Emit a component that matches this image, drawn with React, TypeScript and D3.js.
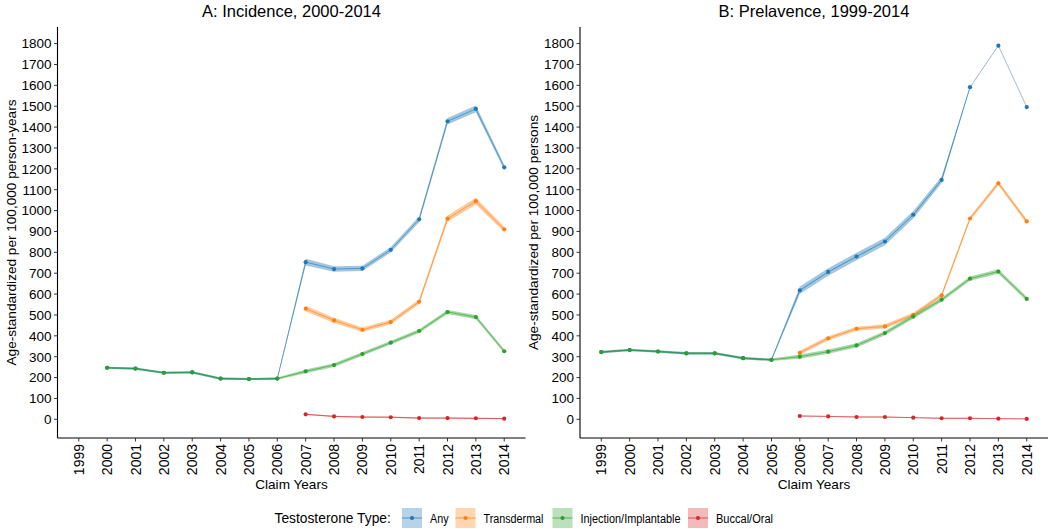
import * as d3 from "d3";

// ---- data ----
const seriesNames = ["Any", "Transdermal", "Injection/Implantable", "Buccal/Oral"];
const seriesColors = ["#1f77b4", "#ff7f0e", "#2ca02c", "#d62728"];

const yearTicks = [1999, 2000, 2001, 2002, 2003, 2004, 2005, 2006, 2007, 2008, 2009, 2010, 2011, 2012, 2013, 2014];
const valueTicks = [0, 100, 200, 300, 400, 500, 600, 700, 800, 900, 1000, 1100, 1200, 1300, 1400, 1500, 1600, 1700, 1800];

// A: incidence, 2000-2014
const incYears = [2000, 2001, 2002, 2003, 2004, 2005, 2006, 2007, 2008, 2009, 2010, 2011, 2012, 2013, 2014];
const incAny = [247, 243, 223, 225, 195, 193, 195, 753, 720, 723, 812, 958, 1428, 1487, 1207];
const incTransdermal = [null, null, null, null, null, null, null, 530, 474, 429, 466, 563, 961, 1045, 910];
const incInjection = [247, 243, 223, 225, 195, 193, 195, 230, 260, 313, 367, 423, 514, 490, 326];
const incBuccal = [null, null, null, null, null, null, null, 24, 14, 11, 10, 6, 6, 5, 3];
// half-width of the confidence band
const incAnyCI = [5, 5, 5, 5, 5, 5, 5, 16, 13, 13, 13, 14, 16, 16, 13];
const incTransdermalCI = [0, 0, 0, 0, 0, 0, 0, 14, 12, 11, 11, 12, 15, 16, 13];
const incInjectionCI = [5, 5, 5, 5, 5, 5, 5, 9, 9, 9, 9, 9, 10, 10, 8];
const incBuccalCI = [0, 0, 0, 0, 0, 0, 0, 3, 3, 3, 3, 3, 3, 3, 3];

// B: prevalence, 1999-2014
const prevYears = [1999, 2000, 2001, 2002, 2003, 2004, 2005, 2006, 2007, 2008, 2009, 2010, 2011, 2012, 2013, 2014];
const prevAny = [322, 332, 325, 316, 316, 293, 285, 618, 706, 780, 852, 980, 1147, 1591, 1790, 1496];
const prevTransdermal = [null, null, null, null, null, null, null, 319, 388, 434, 445, 501, 594, 962, 1131, 948];
const prevInjection = [322, 332, 325, 316, 316, 293, 285, 300, 324, 354, 413, 492, 573, 674, 708, 577];
const prevBuccal = [null, null, null, null, null, null, null, 16, 14, 11, 11, 8, 5, 5, 3, 2];
const prevAnyCI = [5, 5, 5, 5, 5, 5, 5, 18, 18, 18, 18, 18, 16, 2, 2, 2];
const prevTransdermalCI = [0, 0, 0, 0, 0, 0, 0, 10, 10, 10, 10, 10, 10, 10, 11, 10];
const prevInjectionCI = [6, 6, 6, 6, 6, 6, 6, 10, 10, 10, 10, 10, 10, 10, 11, 10];
const prevBuccalCI = [0, 0, 0, 0, 0, 0, 0, 2, 2, 2, 2, 2, 2, 2, 2, 2];

const FONT = "'Liberation Sans', Arial, Helvetica, sans-serif";

type Pt = { year: number; v: number | null; ci: number };

function toPoints(years: number[], vals: (number | null)[], ci: number[]): Pt[] {
  return years.map((year, i) => ({ year, v: vals[i], ci: ci[i] }));
}

const panels = [
  {
    title: "A: Incidence, 2000-2014",
    yTitle: "Age-standardized per 100,000 person-years",
    left: 57.5,
    right: 525.5,
    yTitleX: 11,
    paleFrom: null as number | null,
    series: [
      toPoints(incYears, incAny, incAnyCI),
      toPoints(incYears, incTransdermal, incTransdermalCI),
      toPoints(incYears, incInjection, incInjectionCI),
      toPoints(incYears, incBuccal, incBuccalCI),
    ],
  },
  {
    title: "B: Prelavence, 1999-2014",
    yTitle: "Age-standardized per 100,000 persons",
    left: 580,
    right: 1048,
    yTitleX: 533,
    paleFrom: 2012 as number | null,
    series: [
      toPoints(prevYears, prevAny, prevAnyCI),
      toPoints(prevYears, prevTransdermal, prevTransdermalCI),
      toPoints(prevYears, prevInjection, prevInjectionCI),
      toPoints(prevYears, prevBuccal, prevBuccalCI),
    ],
  },
];

const top = 27;
const bottom = 438;

const y = d3.scaleLinear().domain([-89.5, 1879.5]).range([bottom, top]);

function Panel({ p }: { p: (typeof panels)[number] }) {
  const x = d3.scaleLinear().domain([1998.25, 2014.75]).range([p.left, p.right]);
  const cx = (p.left + p.right) / 2;

  const area = d3
    .area<Pt>()
    .defined((d) => d.v != null)
    .x((d) => x(d.year))
    .y0((d) => y((d.v as number) - d.ci))
    .y1((d) => y((d.v as number) + d.ci));

  const line = d3
    .line<Pt>()
    .defined((d) => d.v != null)
    .x((d) => x(d.year))
    .y((d) => y(d.v as number));

  return (
    <g>
      <text x={cx} y={17} textAnchor="middle" fontSize={16.5} fill="#000">
        {p.title}
      </text>

      {/* ribbons */}
      {p.series.map((s, i) => (
        <path key={"r" + i} d={area(s) || ""} fill={seriesColors[i]} fillOpacity={0.42} />
      ))}
      {/* lines */}
      {p.series.map((s, i) => {
        if (i === 0 && p.paleFrom != null) {
          const pf = p.paleFrom;
          return (
            <g key={"l" + i}>
              <path d={line(s.filter((d) => d.year <= pf)) || ""} fill="none" stroke={seriesColors[i]} strokeOpacity={0.7} strokeWidth={1} />
              <path d={line(s.filter((d) => d.year >= pf)) || ""} fill="none" stroke="#a9c2d4" strokeWidth={1} />
            </g>
          );
        }
        return <path key={"l" + i} d={line(s) || ""} fill="none" stroke={seriesColors[i]} strokeOpacity={0.6} strokeWidth={1} />;
      })}
      {/* points */}
      {p.series.map((s, i) =>
        s
          .filter((d) => d.v != null)
          .map((d) => <circle key={"c" + i + d.year} cx={x(d.year)} cy={y(d.v as number)} r={2.1} fill={seriesColors[i]} />)
      )}

      {/* y axis */}
      <line x1={p.left} x2={p.left} y1={top} y2={bottom} stroke="#000" strokeWidth={1.1} />
      {valueTicks.map((t) => (
        <g key={"yt" + t}>
          <line x1={p.left - 3.5} x2={p.left} y1={y(t)} y2={y(t)} stroke="#333" />
          <text x={p.left - 6} y={y(t)} dy="0.36em" textAnchor="end" fontSize={13.5} fill="#000">
            {t}
          </text>
        </g>
      ))}
      <text
        transform={`translate(${p.yTitleX},${(top + bottom) / 2}) rotate(-90)`}
        textAnchor="middle"
        dy="0.36em"
        fontSize={13.6}
        fill="#000"
      >
        {p.yTitle}
      </text>

      {/* x axis */}
      <line x1={p.left} x2={p.right} y1={bottom} y2={bottom} stroke="#000" strokeWidth={1.1} />
      {yearTicks.map((t) => (
        <g key={"xt" + t}>
          <line x1={x(t)} x2={x(t)} y1={bottom} y2={bottom + 3.5} stroke="#333" />
          <text
            transform={`translate(${x(t)},${bottom + 6}) rotate(-90)`}
            dy="0.36em"
            textAnchor="end"
            fontSize={14}
            fill="#000"
          >
            {t}
          </text>
        </g>
      ))}
      <text x={cx} y={489} textAnchor="middle" fontSize={13.6} fill="#000">
        Claim Years
      </text>
    </g>
  );
}

// legend layout
const legendKeyX = [402, 455.5, 552.5, 688];
const legendLabelWidths = [18.5, 60, 100, 57];

function Legend() {
  const ky = 508;
  return (
    <g>
      <text x={274.5} y={518} dy="0.36em" fontSize={13.8} fill="#000">
        Testosterone Type:
      </text>
      {seriesNames.map((name, i) => (
        <g key={name}>
          <rect x={legendKeyX[i]} y={ky} width={20} height={20} fill={seriesColors[i]} fillOpacity={0.32} />
          <line x1={legendKeyX[i]} x2={legendKeyX[i] + 20} y1={ky + 10} y2={ky + 10} stroke={seriesColors[i]} strokeOpacity={0.7} />
          <circle cx={legendKeyX[i] + 10} cy={ky + 10} r={2.1} fill={seriesColors[i]} />
          <text
            x={legendKeyX[i] + 28}
            y={518.5}
            dy="0.36em"
            fontSize={12}
            fill="#000"
            textLength={legendLabelWidths[i]}
            lengthAdjust="spacingAndGlyphs"
          >
            {name}
          </text>
        </g>
      ))}
    </g>
  );
}

export default function App() {
  return (
    <svg
      width={1050}
      height={529}
      style={{ position: "absolute", left: 0, top: 0, background: "#fff", fontFamily: FONT }}
    >
      {panels.map((p) => (
        <Panel key={p.title} p={p} />
      ))}
      <Legend />
    </svg>
  );
}
